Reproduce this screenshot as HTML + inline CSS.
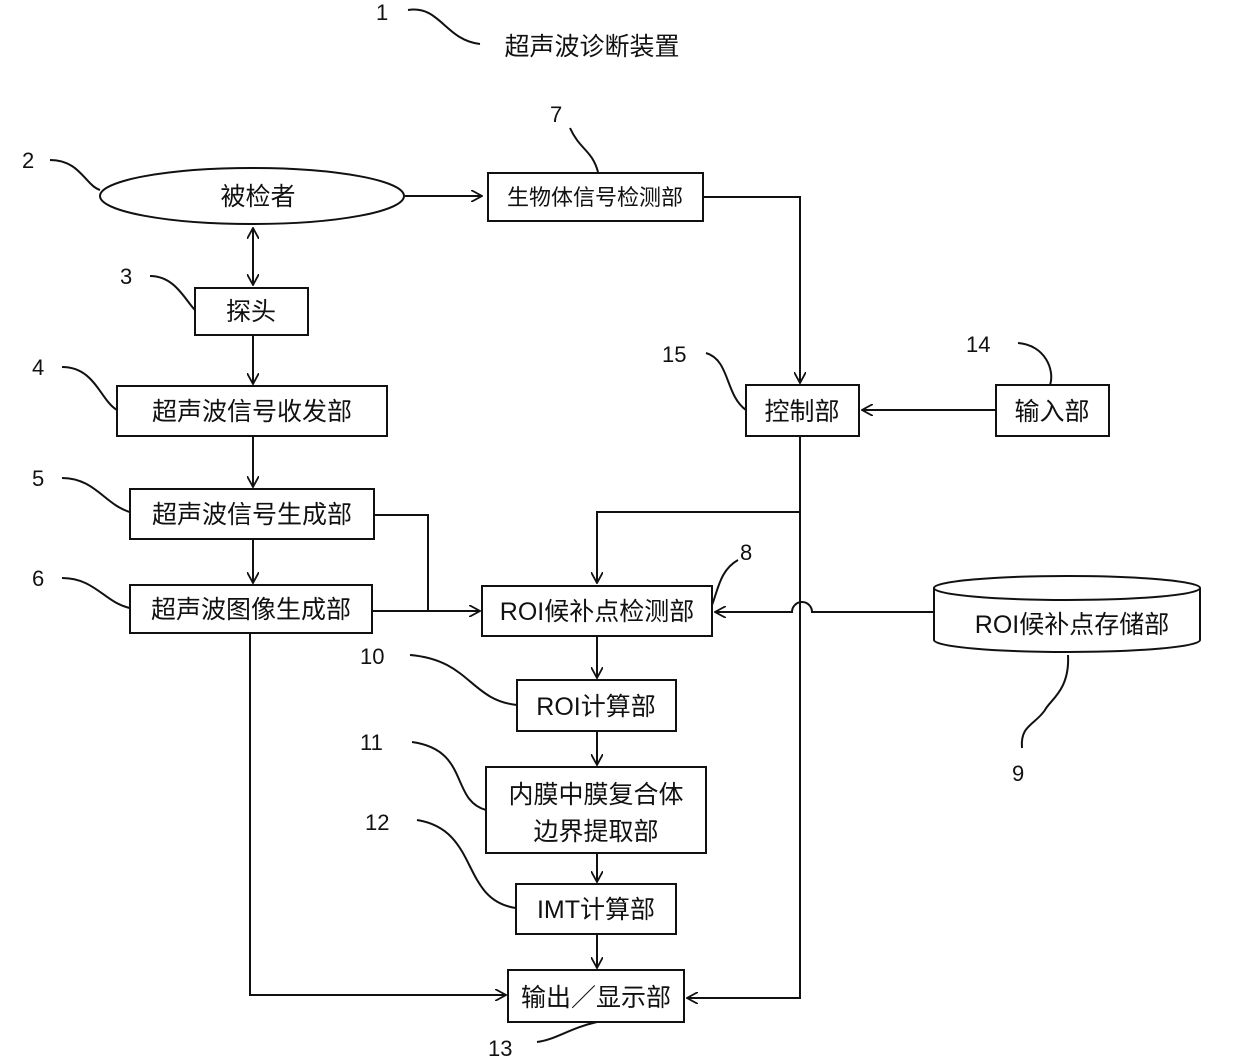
<!DOCTYPE html>
<html><head><meta charset="utf-8"><style>
html,body{margin:0;padding:0;background:#fff}
svg{display:block}
text{font-family:"Liberation Sans","Noto Sans CJK SC",sans-serif;fill:#111}
</style></head><body>
<svg width="1240" height="1061" viewBox="0 0 1240 1061" xmlns="http://www.w3.org/2000/svg">
<defs>
<marker id="a" viewBox="0 0 12 12" refX="11" refY="6" markerWidth="12" markerHeight="12" markerUnits="userSpaceOnUse" orient="auto">
<path d="M0,0 L11,6 L0,12" fill="none" stroke="#111" stroke-width="1.8"/></marker>
<marker id="s" viewBox="0 0 12 12" refX="1" refY="6" markerWidth="12" markerHeight="12" markerUnits="userSpaceOnUse" orient="auto">
<path d="M12,0 L1,6 L12,12" fill="none" stroke="#111" stroke-width="1.8"/></marker>
</defs>
<g fill="none" stroke="#111" stroke-width="2">
<!-- leaders -->
<path d="M408,10 C440,5 445,40 480,44"/>
<path d="M50,160 C80,160 85,185 100,190"/>
<path d="M570,128 C580,150 592,150 598,172"/>
<path d="M150,276 C175,276 185,300 195,310"/>
<path d="M62,367 C95,367 100,400 117,410"/>
<path d="M62,478 C95,478 105,505 130,512"/>
<path d="M62,578 C95,578 105,603 130,608"/>
<path d="M706,353 C730,360 725,395 746,410"/>
<path d="M1018,343 C1045,345 1055,370 1050,385"/>
<path d="M738,560 C720,570 718,590 712,605"/>
<path d="M410,655 C470,660 470,700 517,705"/>
<path d="M412,742 C470,750 450,800 486,810"/>
<path d="M417,820 C480,830 460,900 516,908"/>
<path d="M1068,655 C1070,690 1050,700 1045,710 C1035,725 1020,725 1022,748"/>
<path d="M537,1042 C555,1040 570,1028 597,1022"/>
<!-- shapes -->
<ellipse cx="252" cy="196" rx="152" ry="28"/>
<rect x="488" y="173" width="215" height="48"/>
<rect x="195" y="288" width="113" height="47"/>
<rect x="117" y="386" width="270" height="50"/>
<rect x="130" y="489" width="244" height="50"/>
<rect x="130" y="585" width="242" height="48"/>
<rect x="482" y="586" width="230" height="50"/>
<rect x="746" y="385" width="113" height="51"/>
<rect x="996" y="385" width="113" height="51"/>
<rect x="517" y="680" width="159" height="51"/>
<rect x="486" y="767" width="220" height="86"/>
<rect x="516" y="884" width="160" height="50"/>
<rect x="508" y="970" width="176" height="52"/>
<path d="M934,588 L934,640 A133,12 0 0 0 1200,640 L1200,588"/>
<ellipse cx="1067" cy="588" rx="133" ry="12"/>
<!-- connectors -->
<path d="M405,196 L482,196" marker-end="url(#a)"/>
<path d="M703,197 L800,197 L800,383" marker-end="url(#a)"/>
<path d="M253,228 L253,285" marker-start="url(#s)" marker-end="url(#a)"/>
<path d="M253,335 L253,384" marker-end="url(#a)"/>
<path d="M253,436 L253,487" marker-end="url(#a)"/>
<path d="M253,539 L253,583" marker-end="url(#a)"/>
<path d="M374,515 L428,515 L428,611"/>
<path d="M372,611 L480,611" marker-end="url(#a)"/>
<path d="M996,410 L862,410" marker-end="url(#a)"/>
<path d="M800,436 L800,998 L687,998" marker-end="url(#a)"/>
<path d="M800,512 L597,512 L597,583" marker-end="url(#a)"/>
<path d="M934,612 L812,612 A10,10 0 0 0 792,612 L715,612" marker-end="url(#a)"/>
<path d="M597,636 L597,678" marker-end="url(#a)"/>
<path d="M597,731 L597,765" marker-end="url(#a)"/>
<path d="M597,853 L597,882" marker-end="url(#a)"/>
<path d="M597,934 L597,968" marker-end="url(#a)"/>
<path d="M250,633 L250,995 L506,995" marker-end="url(#a)"/>
</g>
<g font-size="22">
<text x="376" y="20">1</text>
<text x="22" y="168">2</text>
<text x="550" y="122">7</text>
<text x="120" y="284">3</text>
<text x="32" y="375">4</text>
<text x="32" y="486">5</text>
<text x="32" y="586">6</text>
<text x="662" y="362">15</text>
<text x="966" y="352">14</text>
<text x="740" y="560">8</text>
<text x="360" y="664">10</text>
<text x="360" y="750">11</text>
<text x="365" y="830">12</text>
<text x="1012" y="781">9</text>
<text x="488" y="1056">13</text>
</g>
<g font-size="25" text-anchor="middle">
<text x="592" y="55">超声波诊断装置</text>
<text x="258" y="205">被检者</text>
<text x="595" y="205" font-size="22">生物体信号检测部</text>
<text x="251" y="320">探头</text>
<text x="252" y="420">超声波信号收发部</text>
<text x="252" y="523">超声波信号生成部</text>
<text x="251" y="618">超声波图像生成部</text>
<text x="597" y="620">ROI候补点检测部</text>
<text x="802" y="420">控制部</text>
<text x="1052" y="420">输入部</text>
<text x="1072" y="633">ROI候补点存储部</text>
<text x="596" y="715">ROI计算部</text>
<text x="596" y="803">内膜中膜复合体</text>
<text x="596" y="840">边界提取部</text>
<text x="596" y="918">IMT计算部</text>
<text x="596" y="1006">输出／显示部</text>
</g>
</svg>
</body></html>
